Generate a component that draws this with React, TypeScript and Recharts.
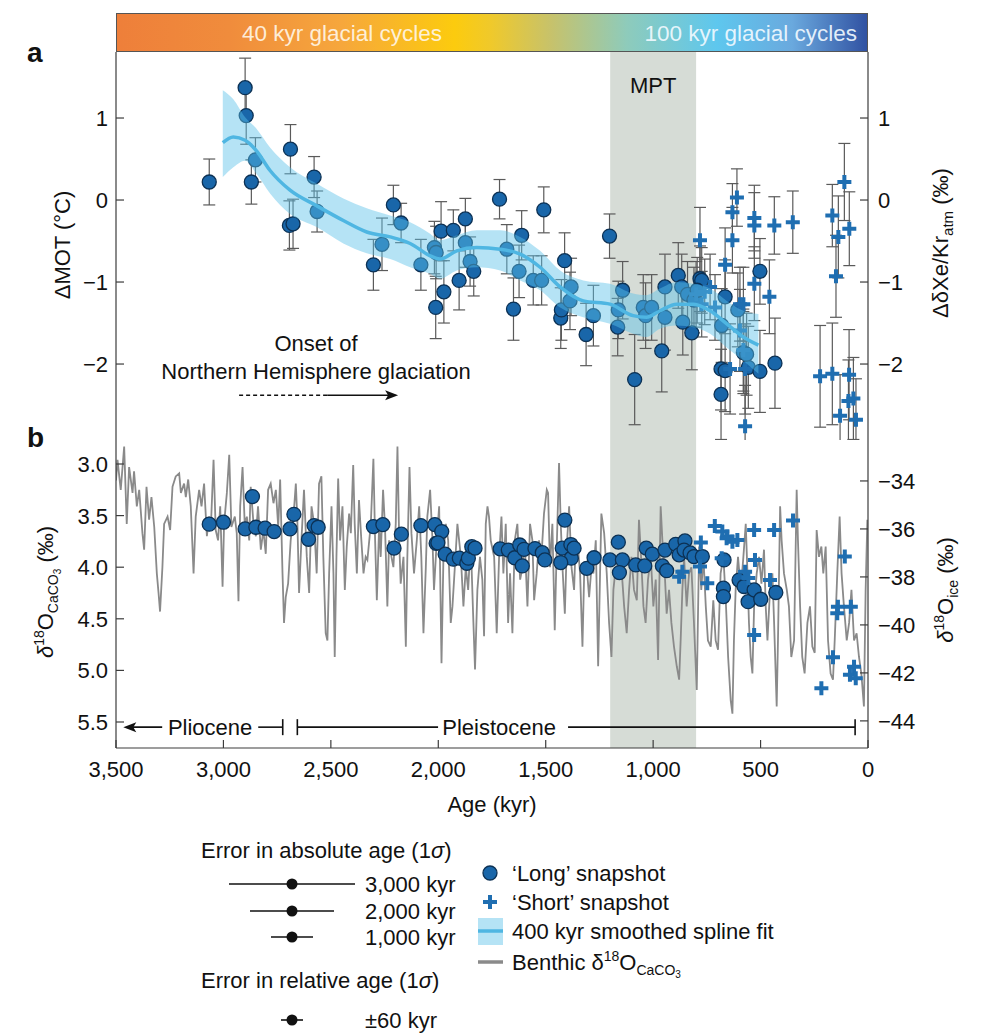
import React from 'react';
import {
  ComposedChart,
  Scatter,
  Line,
  Area,
  XAxis,
  YAxis,
  ErrorBar,
  ReferenceArea,
  ReferenceLine,
  ReferenceDot,
} from 'recharts';

const FONT = '"Liberation Sans", Arial, Helvetica, sans-serif';
const INK = '#111';
const FRAME = '#3c3c3c';
const DOT_FILL = '#1966a9';
const DOT_EDGE = '#0c3154';
const CROSS = '#1f6eb1';
const BAND = 'rgba(91,192,232,0.45)';
const FIT = '#4fb6e2';
const GRAY = '#8a8a8a';
const MPT_FILL = '#d6dcd6';

const AGE_TICKS = [3500, 3000, 2500, 2000, 1500, 1000, 500, 0];
const MOT_TICKS = [1, 0, -1, -2];
const CACO3_TICKS = [3.0, 3.5, 4.0, 4.5, 5.0, 5.5];
const ICE_TICKS = [-34, -36, -38, -40, -42, -44];

const MOT_DOMAIN = [-2.902, 1.805];

// 'Long' snapshots, panel a: [age kyr, ΔMOT °C, 1σ]
const LONG_MOT: [number, number, number][] = [
  [3066, 0.22, 0.28], [2899, 1.37, 0.36], [2894, 1.03, 0.35], [2851, 0.49, 0.27],
  [2870, 0.22, 0.27], [2688, 0.62, 0.3], [2578, 0.28, 0.25], [2564, -0.14, 0.25],
  [2693, -0.31, 0.3], [2676, -0.29, 0.3], [2302, -0.79, 0.31], [2262, -0.54, 0.32],
  [2209, -0.06, 0.24], [2173, -0.28, 0.24], [2081, -0.79, 0.31], [2018, -0.58, 0.32],
  [2010, -0.64, 0.32], [1987, -0.38, 0.36], [2012, -1.31, 0.38], [1974, -1.12, 0.38],
  [1930, -0.37, 0.25], [1903, -0.98, 0.36], [1874, -0.23, 0.25], [1874, -0.52, 0.3],
  [1852, -0.75, 0.3], [1835, -0.87, 0.3], [1715, 0.01, 0.24], [1681, -0.6, 0.3],
  [1650, -1.33, 0.38], [1624, -0.87, 0.32], [1612, -0.43, 0.3], [1558, -0.98, 0.3],
  [1519, -0.98, 0.3], [1509, -0.12, 0.28], [1430, -1.44, 0.37], [1427, -1.34, 0.37],
  [1412, -0.74, 0.34], [1387, -1.23, 0.35], [1382, -1.06, 0.35], [1312, -1.64, 0.38],
  [1278, -1.41, 0.37], [1203, -0.44, 0.27], [1165, -1.55, 0.35], [1162, -1.34, 0.35],
  [1142, -1.1, 0.35], [1086, -2.19, 0.55], [1046, -1.31, 0.4], [1035, -1.41, 0.4],
  [1007, -1.31, 0.4], [960, -1.84, 0.5], [945, -1.06, 0.4], [945, -1.43, 0.4],
  [883, -0.92, 0.4], [867, -1.06, 0.4], [862, -1.49, 0.4], [820, -1.62, 0.45],
  [782, -0.96, 0.4], [774, -0.98, 0.4], [840, -1.15, 0.4], [810, -1.22, 0.4],
  [795, -1.1, 0.4], [665, -1.18, 0.45], [684, -2.06, 0.5], [665, -2.08, 0.5],
  [684, -2.37, 0.55], [606, -1.34, 0.45], [681, -1.53, 0.45], [580, -1.86, 0.5],
  [557, -2.04, 0.5], [565, -1.88, 0.5], [503, -2.09, 0.5], [503, -0.87, 0.4],
  [433, -1.99, 0.55],
];

// 'Short' snapshots, panel a: [age kyr, ΔMOT °C, 1σ]
const SHORT_MOT: [number, number, number][] = [
  [782, -0.49, 0.4], [665, -0.79, 0.45], [631, -0.15, 0.35], [610, 0.03, 0.35],
  [631, -0.49, 0.4], [529, -0.22, 0.4], [529, -0.31, 0.4], [436, -0.31, 0.35],
  [350, -0.27, 0.38], [529, -1.02, 0.45], [459, -1.18, 0.45], [596, -1.27, 0.45],
  [580, -1.27, 0.45], [596, -1.59, 0.5], [580, -1.83, 0.5], [572, -2.06, 0.55],
  [642, -2.06, 0.55], [572, -2.76, 0.5], [735, -1.06, 0.4], [712, -1.31, 0.4],
  [774, -1.27, 0.4], [800, -1.15, 0.4], [760, -1.12, 0.4], [166, -0.19, 0.38],
  [110, 0.22, 0.47], [138, -0.45, 0.5], [87, -0.35, 0.45], [149, -0.93, 0.5],
  [223, -2.15, 0.62], [166, -2.12, 0.62], [88, -2.13, 0.55], [91, -2.45, 0.5],
  [68, -2.42, 0.5], [130, -2.63, 0.5], [56, -2.68, 0.5],
];

// 400 kyr smoothed spline: [age, fit, lower, upper]
const SPLINE: [number, number, number, number][] = [
  [3003, 0.7, 0.28, 1.34], [2954, 0.77, 0.4, 1.23], [2899, 0.73, 0.48, 1.01],
  [2846, 0.6, 0.32, 0.87], [2783, 0.36, 0.08, 0.64], [2690, 0.12, -0.17, 0.4],
  [2566, -0.07, -0.33, 0.2], [2442, -0.25, -0.53, 0.02], [2333, -0.39, -0.65, -0.1],
  [2224, -0.45, -0.72, -0.19], [2131, -0.53, -0.82, -0.27], [2038, -0.68, -0.9, -0.41],
  [1992, -0.72, -0.96, -0.49], [1914, -0.62, -0.86, -0.43], [1821, -0.58, -0.82, -0.37],
  [1712, -0.6, -0.86, -0.37], [1619, -0.66, -0.98, -0.45], [1526, -0.82, -1.1, -0.62],
  [1433, -1.06, -1.31, -0.86], [1325, -1.23, -1.43, -0.98], [1201, -1.27, -1.51, -1.02],
  [1093, -1.41, -1.63, -1.14], [1031, -1.43, -1.67, -1.16], [968, -1.35, -1.57, -1.08],
  [890, -1.27, -1.53, -1.0], [812, -1.27, -1.55, -1.02], [735, -1.35, -1.63, -1.08],
  [657, -1.51, -1.8, -1.23], [580, -1.67, -1.96, -1.35], [510, -1.77, -2.12, -1.39],
];

// Benthic δ18O CaCO3 stack: [age kyr, ‰]
const BENTHIC: [number, number][] = [
  [3500, 3.16], [3493, 2.96], [3478, 3.25], [3462, 2.83], [3450, 3.58], [3439, 3.03],
  [3423, 3.28], [3416, 3.07], [3403, 3.41], [3392, 3.25], [3377, 3.67], [3369, 3.83],
  [3358, 3.22], [3346, 3.54], [3335, 3.32], [3322, 3.61], [3310, 4.06], [3302, 4.25],
  [3295, 4.43], [3284, 4.0], [3276, 3.58], [3260, 3.51], [3248, 3.64], [3237, 3.22],
  [3222, 3.12], [3206, 3.09], [3198, 3.28], [3183, 3.19], [3175, 3.32], [3164, 3.15],
  [3152, 3.41], [3139, 4.06], [3129, 3.51], [3113, 3.25], [3102, 3.41], [3090, 3.19],
  [3077, 3.7], [3067, 3.51], [3059, 3.64], [3046, 2.96], [3036, 3.64], [3025, 3.74],
  [3015, 3.41], [3004, 4.19], [2997, 3.58], [2984, 3.28], [2973, 2.91], [2963, 3.61],
  [2947, 3.51], [2938, 3.67], [2930, 4.33], [2922, 3.41], [2911, 3.03], [2901, 3.58],
  [2891, 3.51], [2880, 3.74], [2873, 3.22], [2860, 3.58], [2849, 3.7], [2839, 3.41],
  [2826, 3.83], [2814, 3.64], [2803, 3.87], [2792, 3.25], [2780, 3.19], [2767, 3.38],
  [2756, 3.25], [2745, 3.61], [2736, 3.15], [2725, 4.06], [2718, 4.54], [2710, 4.29],
  [2699, 4.16], [2687, 3.74], [2674, 3.51], [2663, 3.19], [2656, 3.54], [2648, 4.25],
  [2637, 3.74], [2625, 3.25], [2612, 3.9], [2601, 4.25], [2590, 3.41], [2578, 3.58],
  [2566, 4.06], [2555, 3.19], [2544, 3.12], [2535, 3.9], [2524, 4.64], [2516, 4.71],
  [2508, 4.06], [2497, 3.41], [2488, 4.06], [2482, 4.87], [2474, 3.9], [2466, 3.14],
  [2457, 3.74], [2446, 3.41], [2435, 4.22], [2426, 3.8], [2415, 3.48], [2407, 3.67],
  [2396, 3.01], [2389, 3.58], [2379, 4.06], [2369, 3.35], [2358, 3.74], [2348, 4.06],
  [2338, 3.9], [2330, 3.93], [2314, 3.58], [2302, 2.95], [2294, 3.74], [2286, 4.32],
  [2275, 3.58], [2268, 3.9], [2257, 3.25], [2248, 3.61], [2237, 4.38], [2229, 3.74],
  [2218, 3.9], [2209, 4.0], [2198, 3.58], [2190, 2.83], [2182, 3.74], [2175, 4.16],
  [2162, 3.9], [2151, 4.77], [2144, 3.9], [2134, 3.03], [2125, 3.67], [2113, 4.06],
  [2100, 3.74], [2089, 3.41], [2079, 3.9], [2069, 4.64], [2058, 4.0], [2051, 3.51],
  [2038, 3.25], [2027, 3.74], [2020, 4.22], [2007, 3.74], [1996, 3.41], [1985, 4.93],
  [1976, 3.9], [1965, 3.58], [1954, 3.74], [1942, 4.54], [1934, 4.38], [1923, 4.0],
  [1911, 3.58], [1895, 3.9], [1883, 4.38], [1872, 4.0], [1861, 4.22], [1849, 3.74],
  [1838, 4.45], [1829, 4.99], [1818, 4.22], [1806, 3.9], [1795, 4.12], [1787, 4.67],
  [1779, 3.58], [1771, 3.41], [1764, 3.51], [1756, 3.74], [1740, 3.9], [1728, 4.64],
  [1717, 3.9], [1706, 3.51], [1697, 4.06], [1686, 3.58], [1675, 4.54], [1666, 4.06],
  [1655, 4.64], [1644, 3.74], [1632, 3.58], [1619, 4.12], [1608, 4.0], [1598, 3.74],
  [1585, 4.38], [1573, 3.58], [1562, 3.74], [1554, 4.32], [1542, 4.06], [1531, 3.74],
  [1520, 3.9], [1508, 3.48], [1495, 3.25], [1489, 3.28], [1480, 4.0], [1469, 3.58],
  [1458, 4.61], [1449, 3.83], [1438, 2.99], [1430, 3.58], [1422, 4.0], [1411, 4.45],
  [1402, 3.8], [1391, 3.41], [1380, 4.0], [1368, 4.22], [1360, 3.74], [1349, 3.83],
  [1340, 4.06], [1329, 4.77], [1321, 4.06], [1309, 4.0], [1298, 4.29], [1287, 4.0],
  [1278, 4.06], [1267, 3.74], [1256, 4.96], [1247, 4.06], [1241, 3.48], [1228, 3.67],
  [1216, 4.06], [1205, 4.54], [1194, 4.87], [1185, 4.22], [1174, 4.0], [1163, 4.12],
  [1151, 3.9], [1135, 4.38], [1123, 4.64], [1112, 4.22], [1101, 3.9], [1089, 4.22],
  [1076, 4.32], [1066, 3.54], [1058, 3.83], [1045, 4.38], [1035, 4.54], [1024, 4.12],
  [1011, 3.9], [999, 4.38], [988, 4.12], [977, 4.9], [965, 3.41], [957, 3.74],
  [946, 4.06], [937, 4.45], [926, 4.22], [915, 4.54], [903, 4.77], [890, 4.96],
  [879, 5.09], [872, 4.71], [864, 4.22], [856, 3.9], [844, 4.38], [833, 4.06],
  [822, 4.0], [810, 4.54], [797, 5.19], [786, 3.8], [776, 4.22], [766, 3.9],
  [755, 4.38], [745, 4.71], [732, 4.77], [720, 4.32], [709, 4.71], [698, 4.8],
  [686, 4.06], [673, 3.9], [662, 4.32], [651, 4.87], [639, 5.29], [631, 5.42],
  [624, 4.71], [616, 4.22], [605, 3.9], [592, 4.22], [580, 3.9], [569, 3.58],
  [561, 4.06], [554, 4.54], [546, 4.87], [538, 5.03], [530, 4.38], [518, 4.06],
  [507, 3.9], [496, 4.16], [484, 3.83], [476, 4.38], [468, 4.71], [456, 4.22],
  [445, 4.06], [437, 4.54], [425, 5.35], [419, 4.71], [409, 3.41], [402, 3.74],
  [391, 4.06], [378, 4.22], [368, 4.38], [357, 4.87], [344, 4.71], [332, 3.25],
  [326, 3.74], [316, 4.38], [306, 4.87], [295, 5.03], [282, 4.54], [270, 4.38],
  [259, 4.77], [248, 4.83], [239, 3.64], [228, 3.9], [217, 3.8], [208, 4.06],
  [197, 3.8], [186, 4.71], [174, 5.03], [163, 5.09], [155, 4.71], [143, 4.06],
  [132, 3.51], [123, 4.06], [112, 4.38], [99, 4.71], [88, 4.54], [77, 4.22],
  [65, 4.71], [53, 4.64], [42, 4.87], [31, 5.03], [19, 5.35], [11, 4.22], [3, 3.54],
];

// 'Long' snapshots, panel b: [age kyr, δ18O ice ‰]
const LONG_ICE: [number, number][] = [
  [3066, -35.8], [3000, -35.72], [2899, -36.0], [2865, -34.65], [2849, -35.93],
  [2806, -35.97], [2764, -36.11], [2690, -36.0], [2672, -35.39], [2604, -36.43],
  [2578, -35.86], [2559, -35.93], [2302, -35.9], [2258, -35.82], [2206, -36.8],
  [2172, -36.22], [2081, -35.86], [2016, -35.82], [1984, -36.11], [2010, -36.6],
  [2002, -36.58], [1968, -37.05], [1930, -37.26], [1902, -37.22], [1867, -37.43],
  [1860, -37.22], [1844, -36.74], [1829, -36.8], [1712, -36.83], [1674, -36.88],
  [1644, -37.2], [1621, -36.67], [1609, -37.54], [1601, -36.85], [1550, -36.82],
  [1516, -36.99], [1504, -37.29], [1411, -35.63], [1423, -36.8], [1383, -36.65],
  [1381, -37.22], [1430, -37.4], [1368, -36.8], [1309, -37.64], [1275, -37.2],
  [1201, -37.29], [1162, -36.55], [1143, -37.29], [1157, -37.82], [1081, -37.5],
  [1039, -37.54], [1032, -36.8], [1004, -37.05], [957, -37.54], [937, -37.74],
  [945, -36.88], [895, -36.64], [852, -36.5], [879, -37.08], [856, -36.88],
  [828, -37.0], [810, -37.15], [771, -37.15], [670, -37.29], [673, -38.47],
  [673, -38.82], [600, -38.13], [577, -38.4], [558, -39.03], [530, -38.54],
  [499, -38.93], [429, -38.65],
];

// 'Short' snapshots, panel b: [age kyr, δ18O ice ‰]
const SHORT_ICE: [number, number][] = [
  [713, -35.88], [678, -36.11], [655, -36.32], [631, -36.53], [608, -36.46],
  [530, -36.04], [437, -36.04], [349, -35.65], [526, -37.29], [778, -36.57],
  [748, -38.26], [456, -38.13], [530, -40.42], [108, -37.15], [140, -39.24],
  [80, -39.24], [143, -39.51], [163, -41.35], [217, -42.64], [65, -41.74],
  [84, -42.08], [57, -42.22], [864, -37.78], [879, -37.99], [782, -37.57],
  [681, -37.22], [572, -37.78], [557, -38.05], [658, -36.39],
];

const longMot = LONG_MOT.map(([age, v, e]) => ({ age, v, e }));
const shortMot = SHORT_MOT.map(([age, v, e]) => ({ age, v, e }));
const splineRows = SPLINE.map(([age, v, lo, hi]) => ({ age, v, band: [lo, hi] }));
const benthicRows = BENTHIC.map(([age, v]) => ({ age, v }));
const longIce = LONG_ICE.map(([age, v]) => ({ age, v }));
const shortIce = SHORT_ICE.map(([age, v]) => ({ age, v }));

const fmtSigned = (v: number) => (v < 0 ? `\u2212${Math.abs(v)}` : `${v}`);
const fmtOne = (v: number) => v.toFixed(1);
const fmtAge = (v: number) => v.toLocaleString('en-US');

const txt = { fontSize: 22, fontFamily: FONT, fill: INK };

const leftTick = (fmt: (v: number) => string) => (p: any) => (
  <g>
    <line x1={p.x + 8} x2={p.x + 16} y1={p.y} y2={p.y} stroke={FRAME} strokeWidth={1.2} />
    <text x={p.x} y={p.y} dy="0.36em" textAnchor="end" {...txt}>
      {fmt(p.payload.value)}
    </text>
  </g>
);

const rightTick = (fmt: (v: number) => string) => (p: any) => (
  <g>
    <line x1={p.x - 10} x2={p.x - 18} y1={p.y} y2={p.y} stroke={FRAME} strokeWidth={1.2} />
    <text x={p.x} y={p.y} dy="0.36em" textAnchor="start" {...txt}>
      {fmt(p.payload.value)}
    </text>
  </g>
);

const downTick = (p: any) => (
  <line x1={p.x} x2={p.x} y1={p.y} y2={p.y + 8} stroke={FRAME} strokeWidth={1.2} />
);
const upTick = (p: any) => (
  <line x1={p.x} x2={p.x} y1={p.y} y2={p.y - 8} stroke={FRAME} strokeWidth={1.2} />
);
const ageTick = (p: any) => (
  <g>
    <line x1={p.x} x2={p.x} y1={p.y} y2={p.y - 8} stroke={FRAME} strokeWidth={1.2} />
    <text x={p.x} y={p.y + 29} textAnchor="middle" {...txt}>
      {fmtAge(p.payload.value)}
    </text>
  </g>
);

const CircleDot = (p: any) => (
  <circle cx={p.cx} cy={p.cy} r={7} fill={DOT_FILL} stroke={DOT_EDGE} strokeWidth={1.3} />
);
const CrossDot = (p: any) => (
  <path
    d={`M${p.cx - 7},${p.cy}H${p.cx + 7}M${p.cx},${p.cy - 7}V${p.cy + 7}`}
    stroke={CROSS}
    strokeWidth={4}
    fill="none"
  />
);

const textShape = (label: string) => (p: any) => (
  <text x={p.cx} y={p.cy} dy="0.36em" textAnchor="middle" {...txt}>
    {label}
  </text>
);
const arrowRight = (p: any) => (
  <path d={`M${p.cx},${p.cy}L${p.cx - 13},${p.cy - 5}L${p.cx - 10},${p.cy}L${p.cx - 13},${p.cy + 5}Z`} fill={INK} />
);
const arrowLeft = (p: any) => (
  <path d={`M${p.cx},${p.cy}L${p.cx + 13},${p.cy - 5}L${p.cx + 10},${p.cy}L${p.cx + 13},${p.cy + 5}Z`} fill={INK} />
);
const capShape = (p: any) => (
  <path d={`M${p.cx},${p.cy - 8}V${p.cy + 8}`} stroke={INK} strokeWidth={1.6} />
);

const xCommon = {
  dataKey: 'age',
  type: 'number' as const,
  domain: [0, 3500],
  reversed: true,
  allowDataOverflow: true,
  ticks: AGE_TICKS,
  interval: 0 as const,
  tickSize: 0,
  tickMargin: 0,
  tickLine: false,
  axisLine: { stroke: FRAME, strokeWidth: 1.2 },
};

function PanelA() {
  return (
    <ComposedChart
      width={994}
      height={440}
      data={splineRows}
      margin={{ top: 52, right: 86, bottom: 2, left: 76 }}
    >
      <XAxis xAxisId="t" orientation="top" height={0} tick={downTick} {...xCommon} />
      <XAxis xAxisId="b" orientation="bottom" height={0} tick={upTick} {...xCommon} />
      <YAxis
        yAxisId="l"
        orientation="left"
        width={40}
        type="number"
        domain={MOT_DOMAIN}
        allowDataOverflow
        ticks={MOT_TICKS}
        interval={0}
        tickSize={0}
        tickMargin={8}
        tickLine={false}
        axisLine={{ stroke: FRAME, strokeWidth: 1.2 }}
        tick={leftTick(fmtSigned)}
      />
      <YAxis
        yAxisId="r"
        orientation="right"
        width={40}
        type="number"
        domain={MOT_DOMAIN}
        allowDataOverflow
        ticks={MOT_TICKS}
        interval={0}
        tickSize={0}
        tickMargin={10}
        tickLine={false}
        axisLine={{ stroke: FRAME, strokeWidth: 1.2 }}
        tick={rightTick(fmtSigned)}
      />
      <ReferenceArea
        xAxisId="t"
        yAxisId="l"
        x1={1200}
        x2={800}
        fill={MPT_FILL}
        fillOpacity={1}
        stroke="none"
        label={{ value: 'MPT', position: 'insideTop', offset: 25, fontSize: 22, fill: INK, fontFamily: FONT }}
      />
      <Scatter xAxisId="t" yAxisId="l" data={longMot} dataKey="v" shape={CircleDot} isAnimationActive={false}>
        <ErrorBar dataKey="e" direction="y" width={6} stroke="#5a5a5a" strokeWidth={1.2} />
      </Scatter>
      <Scatter xAxisId="t" yAxisId="l" data={shortMot} dataKey="v" shape={CrossDot} isAnimationActive={false}>
        <ErrorBar dataKey="e" direction="y" width={6} stroke="#5a5a5a" strokeWidth={1.2} />
      </Scatter>
      <ReferenceDot xAxisId="t" yAxisId="l" x={2569} y={-1.75} r={0} shape={textShape('Onset of')} />
      <ReferenceDot
        xAxisId="t"
        yAxisId="l"
        x={2569}
        y={-2.08}
        r={0}
        shape={textShape('Northern Hemisphere glaciation')}
      />
      <ReferenceLine
        xAxisId="t"
        yAxisId="l"
        segment={[{ x: 2927, y: -2.38 }, { x: 2517, y: -2.38 }]}
        stroke={INK}
        strokeWidth={1.5}
        strokeDasharray="4 3"
      />
      <ReferenceLine
        xAxisId="t"
        yAxisId="l"
        segment={[{ x: 2517, y: -2.38 }, { x: 2200, y: -2.38 }]}
        stroke={INK}
        strokeWidth={1.5}
      />
      <ReferenceDot xAxisId="t" yAxisId="l" x={2187} y={-2.38} r={0} shape={arrowRight} />
    </ComposedChart>
  );
}

// the spline fit sits above the snapshots, so it gets its own transparent layer
function PanelAFit() {
  return (
    <ComposedChart
      width={994}
      height={440}
      data={splineRows}
      margin={{ top: 52, right: 126, bottom: 2, left: 116 }}
    >
      <XAxis dataKey="age" type="number" domain={[0, 3500]} reversed allowDataOverflow hide />
      <YAxis type="number" domain={MOT_DOMAIN} allowDataOverflow hide />
      <Area
        dataKey="band"
        type="monotone"
        fill={BAND}
        fillOpacity={1}
        stroke="none"
        dot={false}
        activeDot={false}
        isAnimationActive={false}
      />
      <Line
        dataKey="v"
        type="monotone"
        stroke={FIT}
        strokeWidth={3.5}
        dot={false}
        activeDot={false}
        isAnimationActive={false}
      />
    </ComposedChart>
  );
}

function PanelB() {
  return (
    <ComposedChart
      width={994}
      height={400}
      data={benthicRows}
      margin={{ top: 2, right: 86, bottom: 58, left: 76 }}
    >
      <XAxis xAxisId="t" orientation="top" height={0} tick={downTick} {...xCommon} />
      <XAxis xAxisId="b" orientation="bottom" height={30} tick={ageTick} {...xCommon} />
      <YAxis
        yAxisId="l"
        orientation="left"
        width={40}
        type="number"
        domain={[2.748, 5.752]}
        reversed
        allowDataOverflow
        ticks={CACO3_TICKS}
        interval={0}
        tickSize={0}
        tickMargin={8}
        tickLine={false}
        axisLine={{ stroke: FRAME, strokeWidth: 1.2 }}
        tick={leftTick(fmtOne)}
      />
      <YAxis
        yAxisId="r"
        orientation="right"
        width={40}
        type="number"
        domain={[-45.13, -32.21]}
        allowDataOverflow
        ticks={ICE_TICKS}
        interval={0}
        tickSize={0}
        tickMargin={10}
        tickLine={false}
        axisLine={{ stroke: FRAME, strokeWidth: 1.2 }}
        tick={rightTick(fmtSigned)}
      />
      <ReferenceArea xAxisId="t" yAxisId="l" x1={1200} x2={800} fill={MPT_FILL} fillOpacity={1} stroke="none" />
      <Line
        xAxisId="t"
        yAxisId="l"
        dataKey="v"
        type="linear"
        stroke={GRAY}
        strokeWidth={1.8}
        dot={false}
        activeDot={false}
        isAnimationActive={false}
      />
      <Scatter xAxisId="t" yAxisId="r" data={longIce} dataKey="v" shape={CircleDot} isAnimationActive={false} />
      <Scatter xAxisId="t" yAxisId="r" data={shortIce} dataKey="v" shape={CrossDot} isAnimationActive={false} />
      <ReferenceDot xAxisId="t" yAxisId="l" x={3466} y={5.55} r={0} shape={arrowLeft} />
      <ReferenceLine
        xAxisId="t"
        yAxisId="l"
        segment={[{ x: 3440, y: 5.55 }, { x: 3285, y: 5.55 }]}
        stroke={INK}
        strokeWidth={1.6}
      />
      <ReferenceDot xAxisId="t" yAxisId="l" x={3062} y={5.55} r={0} shape={textShape('Pliocene')} />
      <ReferenceLine
        xAxisId="t"
        yAxisId="l"
        segment={[{ x: 2838, y: 5.55 }, { x: 2724, y: 5.55 }]}
        stroke={INK}
        strokeWidth={1.6}
      />
      <ReferenceDot xAxisId="t" yAxisId="l" x={2724} y={5.55} r={0} shape={capShape} />
      <ReferenceDot xAxisId="t" yAxisId="l" x={2656} y={5.55} r={0} shape={capShape} />
      <ReferenceLine
        xAxisId="t"
        yAxisId="l"
        segment={[{ x: 2656, y: 5.55 }, { x: 2001, y: 5.55 }]}
        stroke={INK}
        strokeWidth={1.6}
      />
      <ReferenceDot xAxisId="t" yAxisId="l" x={1717} y={5.55} r={0} shape={textShape('Pleistocene')} />
      <ReferenceLine
        xAxisId="t"
        yAxisId="l"
        segment={[{ x: 1396, y: 5.55 }, { x: 60, y: 5.55 }]}
        stroke={INK}
        strokeWidth={1.6}
      />
      <ReferenceDot xAxisId="t" yAxisId="l" x={60} y={5.55} r={0} shape={capShape} />
    </ComposedChart>
  );
}

function Overlay() {
  const sigma = <tspan fontStyle="italic">σ</tspan>;
  return (
    <svg
      width={994}
      height={1036}
      style={{ position: 'absolute', left: 0, top: 0, pointerEvents: 'none' }}
      fontFamily={FONT}
    >
      {/* colour bar captions */}
      <text x={342} y={41} textAnchor="middle" fontSize={22.5} fill="#fff6e8" fillOpacity={0.92}>
        40 kyr glacial cycles
      </text>
      <text x={857} y={41} textAnchor="end" fontSize={22.5} fill="#f2faff" fillOpacity={0.92}>
        100 kyr glacial cycles
      </text>

      {/* panel letters */}
      <text x={27} y={62} fontSize={28} fontWeight="bold" fill={INK}>a</text>
      <text x={27} y={447} fontSize={28} fontWeight="bold" fill={INK}>b</text>

      {/* axis titles */}
      <text transform="translate(62,245) rotate(-90)" textAnchor="middle" dy="0.36em" {...txt}>
        ΔMOT (°C)
      </text>
      <text transform="translate(940,243) rotate(-90)" textAnchor="middle" dy="0.36em" {...txt}>
        ΔδXe/Kr<tspan fontSize={15} dy={5}>atm</tspan>
        <tspan dy={-5}> (‰)</tspan>
      </text>
      <text transform="translate(45,592) rotate(-90)" textAnchor="middle" dy="0.36em" {...txt}>
        <tspan fontStyle="italic">δ</tspan>
        <tspan fontSize={14} dy={-9}>18</tspan>
        <tspan dy={9}>O</tspan>
        <tspan fontSize={14} dy={5}>CaCO</tspan>
        <tspan fontSize={10} dy={3}>3</tspan>
        <tspan dy={-8}> (‰)</tspan>
      </text>
      <text transform="translate(945,590) rotate(-90)" textAnchor="middle" dy="0.36em" {...txt}>
        <tspan fontStyle="italic">δ</tspan>
        <tspan fontSize={14} dy={-9}>18</tspan>
        <tspan dy={9}>O</tspan>
        <tspan fontSize={14} dy={5}>ice</tspan>
        <tspan dy={-5}> (‰)</tspan>
      </text>
      <text x={492} y={812} textAnchor="middle" {...txt}>
        Age (kyr)
      </text>

      {/* legend: age errors */}
      <text x={201} y={858} {...txt}>
        Error in absolute age (1{sigma})
      </text>
      {[
        { y: 884, half: 63, label: '3,000 kyr' },
        { y: 911, half: 42, label: '2,000 kyr' },
        { y: 937, half: 21, label: '1,000 kyr' },
      ].map((r) => (
        <g key={r.label}>
          <line x1={292 - r.half} x2={292 + r.half} y1={r.y} y2={r.y} stroke={INK} strokeWidth={1.6} />
          <circle cx={292} cy={r.y} r={5.5} fill={INK} />
          <text x={365} y={r.y + 8} {...txt}>
            {r.label}
          </text>
        </g>
      ))}
      <text x={201} y={988} {...txt}>
        Error in relative age (1{sigma})
      </text>
      <line x1={281} x2={303} y1={1020} y2={1020} stroke={INK} strokeWidth={1.6} />
      <circle cx={292} cy={1020} r={5.5} fill={INK} />
      <text x={365} y={1028} {...txt}>
        ±60 kyr
      </text>

      {/* legend: series */}
      <circle cx={490} cy={873} r={7} fill={DOT_FILL} stroke={DOT_EDGE} strokeWidth={1.3} />
      <text x={512} y={881} {...txt}>
        ‘Long’ snapshot
      </text>
      <path d="M483,902H497M490,895V909" stroke={CROSS} strokeWidth={4} />
      <text x={512} y={910} {...txt}>
        ‘Short’ snapshot
      </text>
      <rect x={478} y={918} width={25} height={27} fill={BAND} />
      <line x1={478} x2={503} y1={931} y2={931} stroke={FIT} strokeWidth={3.5} />
      <text x={512} y={939} {...txt}>
        400 kyr smoothed spline fit
      </text>
      <line x1={478} x2={503} y1={962} y2={962} stroke={GRAY} strokeWidth={3.5} />
      <text x={512} y={970} {...txt}>
        Benthic δ<tspan fontSize={14} dy={-9}>18</tspan>
        <tspan dy={9}>O</tspan>
        <tspan fontSize={14} dy={5}>CaCO</tspan>
        <tspan fontSize={10} dy={3}>3</tspan>
      </text>
    </svg>
  );
}

export default function App() {
  return (
    <div
      style={{
        position: 'absolute',
        left: 0,
        top: 0,
        width: 994,
        height: 1036,
        background: '#fff',
        fontFamily: FONT,
        overflow: 'hidden',
      }}
    >
      <div
        style={{
          position: 'absolute',
          left: 116,
          top: 13,
          width: 752,
          height: 39,
          boxSizing: 'border-box',
          border: '1px solid #555',
          background:
            'linear-gradient(to right, #ee7f3a 0%, #f08c3c 15%, #f6a73c 30%, #fccb0e 45%, #efc92c 50%, #c6c26c 58%, #8ecbbb 68%, #5ec7ee 80%, #6aa9de 90%, #3152a2 100%)',
        }}
      />
      <div style={{ position: 'absolute', left: 0, top: 0 }}>
        <PanelA />
      </div>
      <div style={{ position: 'absolute', left: 0, top: 0 }}>
        <PanelAFit />
      </div>
      <div style={{ position: 'absolute', left: 0, top: 436 }}>
        <PanelB />
      </div>
      <Overlay />
    </div>
  );
}
